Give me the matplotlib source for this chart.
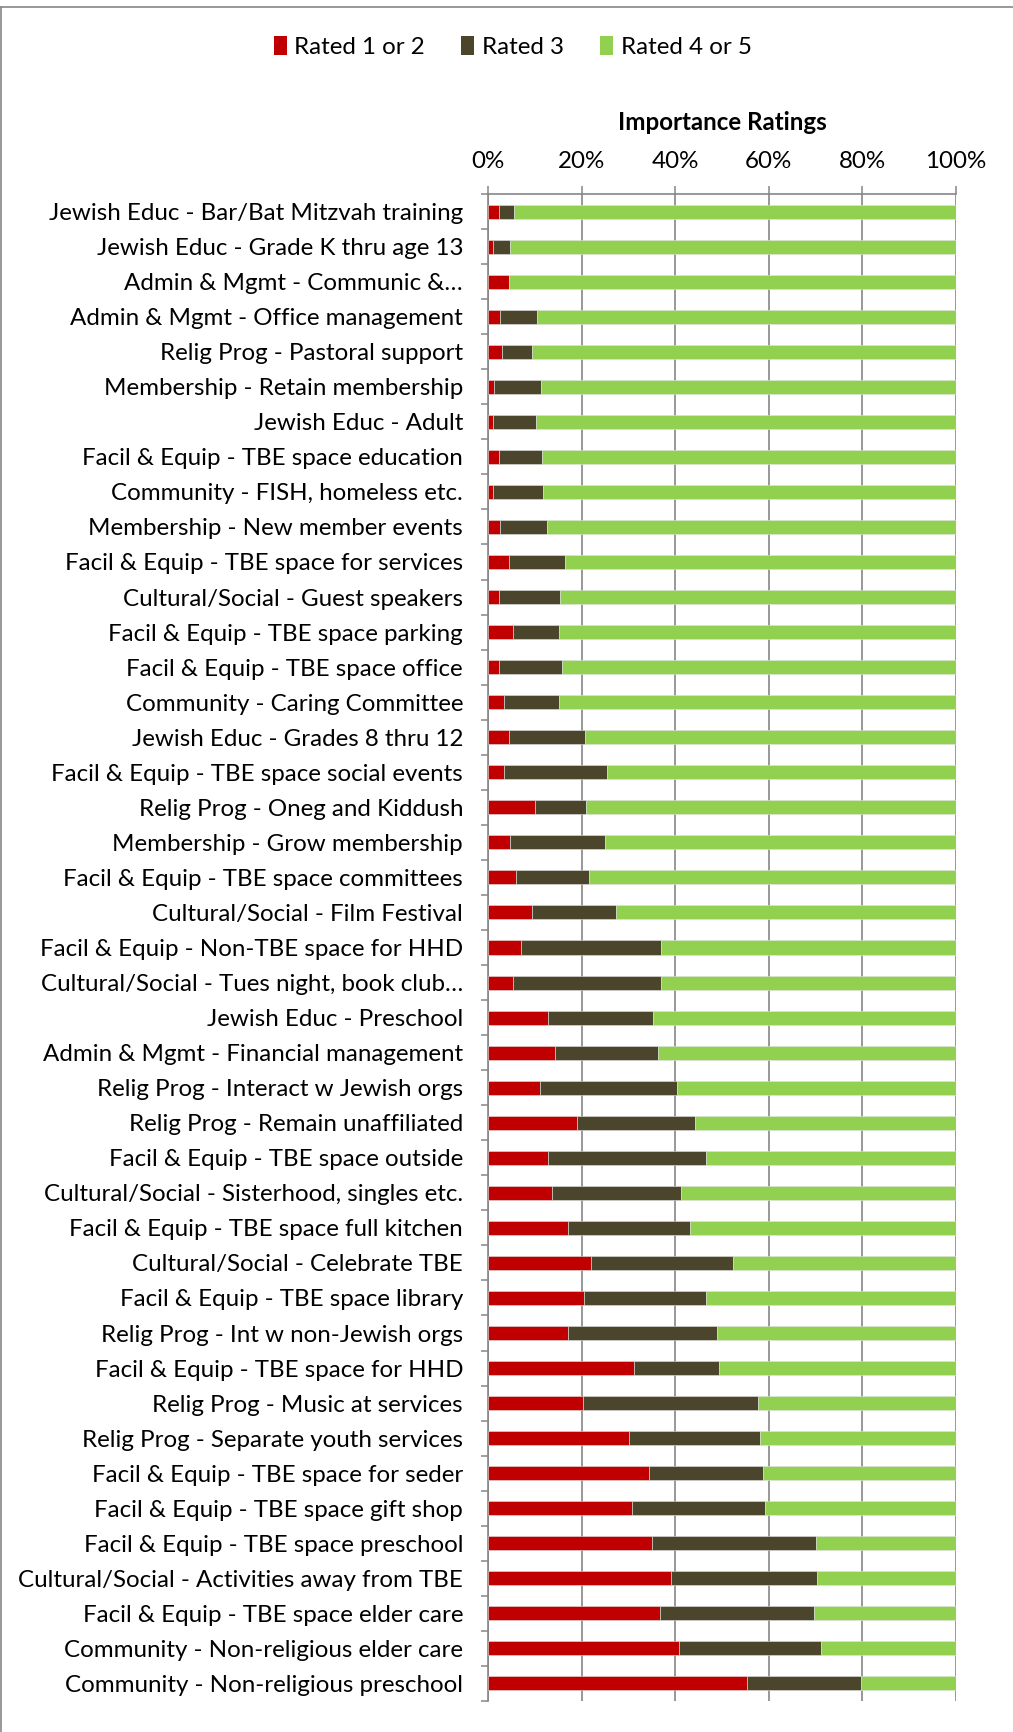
import numpy as np
import matplotlib.pyplot as plt
from matplotlib.patches import Patch
from matplotlib.lines import Line2D

plt.rcParams['font.family'] = ['Lato', 'DejaVu Sans']

# survey items, top to bottom
labels = [
    "Jewish Educ - Bar/Bat Mitzvah training",
    "Jewish Educ - Grade K thru age 13",
    "Admin & Mgmt - Communic &\u2026",
    "Admin & Mgmt - Office management",
    "Relig Prog - Pastoral support",
    "Membership - Retain membership",
    "Jewish Educ - Adult",
    "Facil & Equip - TBE space education",
    "Community - FISH, homeless etc.",
    "Membership - New member events",
    "Facil & Equip - TBE space for services",
    "Cultural/Social - Guest speakers",
    "Facil & Equip - TBE space parking",
    "Facil & Equip - TBE space office",
    "Community - Caring Committee",
    "Jewish Educ - Grades 8 thru 12",
    "Facil & Equip - TBE space social events",
    "Relig Prog - Oneg and Kiddush",
    "Membership - Grow membership",
    "Facil & Equip - TBE space committees",
    "Cultural/Social - Film Festival",
    "Facil & Equip - Non-TBE space for HHD",
    "Cultural/Social - Tues night, book club\u2026",
    "Jewish Educ - Preschool",
    "Admin & Mgmt - Financial management",
    "Relig Prog - Interact w Jewish orgs",
    "Relig Prog - Remain unaffiliated",
    "Facil & Equip - TBE space outside",
    "Cultural/Social - Sisterhood, singles etc.",
    "Facil & Equip - TBE space full kitchen",
    "Cultural/Social - Celebrate TBE",
    "Facil & Equip - TBE space library",
    "Relig Prog - Int w non-Jewish orgs",
    "Facil & Equip - TBE space for HHD",
    "Relig Prog - Music at services",
    "Relig Prog - Separate youth services",
    "Facil & Equip - TBE space for seder",
    "Facil & Equip - TBE space gift shop",
    "Facil & Equip - TBE space preschool",
    "Cultural/Social - Activities away from TBE",
    "Facil & Equip - TBE space elder care",
    "Community - Non-religious elder care",
    "Community - Non-religious preschool",
]

# percent of respondents
rated_1_2 = [2.3, 1.1, 4.4, 2.6, 3.0, 1.3, 1.1, 2.4, 1.1, 2.6, 4.4, 2.4, 5.4, 2.3, 3.4,
             4.5, 3.4, 10.1, 4.7, 6.0, 9.5, 7.1, 5.3, 12.9, 14.4, 11.1, 19.0, 12.8, 13.7,
             17.1, 22.0, 20.5, 17.1, 31.1, 20.2, 30.2, 34.5, 30.7, 35.1, 39.0, 36.8, 40.9, 55.3]
rated_3 = [3.2, 3.5, 0.0, 7.8, 6.3, 10.0, 9.1, 9.1, 10.6, 10.0, 12.1, 13.0, 9.7, 13.6, 11.7,
           16.2, 22.0, 10.8, 20.3, 15.6, 17.9, 29.8, 31.6, 22.4, 22.0, 29.3, 25.3, 33.8, 27.6,
           26.1, 30.4, 26.1, 31.9, 18.3, 37.4, 28.0, 24.2, 28.5, 35.0, 31.2, 32.9, 30.2, 24.3]
rated_4_5 = [94.5, 95.4, 95.6, 89.6, 90.7, 88.7, 89.8, 88.5, 88.3, 87.4, 83.5, 84.6, 84.9, 84.1, 84.9,
             79.3, 74.6, 79.1, 75.0, 78.4, 72.6, 63.1, 63.1, 64.7, 63.6, 59.6, 55.7, 53.4, 58.7,
             56.8, 47.6, 53.4, 51.0, 50.6, 42.4, 41.8, 41.3, 40.8, 29.9, 29.8, 30.3, 28.9, 20.4]

series_names = ["Rated 1 or 2", "Rated 3", "Rated 4 or 5"]
colors = ["#C00000", "#4B452C", "#92D050"]
grid_gray = "#868686"
fs = 17.4

fig = plt.figure(figsize=(10.13, 17.32), dpi=100)
ax = fig.add_axes([488 / 1013, 1 - 1701 / 1732, 468 / 1013, 1507 / 1732])

y = np.arange(len(labels))
r12 = np.array(rated_1_2)
r3 = np.array(rated_3)
r45 = np.array(rated_4_5)

ax.barh(y, r12, height=0.4, color=colors[0], edgecolor='#e0e0e0', linewidth=0.4, zorder=3)
ax.barh(y, r3, left=r12, height=0.4, color=colors[1], edgecolor='#e0e0e0', linewidth=0.4, zorder=3)
ax.barh(y, r45, left=r12 + r3, height=0.4, color=colors[2], edgecolor='#e0e0e0', linewidth=0.4, zorder=3)

ax.set_xlim(0, 100)
ax.set_ylim(len(labels) - 0.5, -0.5)

# x axis on top
ax.xaxis.set_ticks_position('top')
ax.xaxis.set_label_position('top')
ax.set_xticks(np.arange(0, 101, 20))
ax.set_xticklabels([f"{v}%" for v in range(0, 101, 20)])
ax.tick_params(axis='x', direction='out', length=6, width=1.1, color=grid_gray,
               labelsize=fs, pad=10)
ax.set_xlabel("Importance Ratings", fontsize=fs, fontweight='bold', labelpad=15)
ax.grid(axis='x', color=grid_gray, linewidth=1.2, zorder=0)

# category labels, with ticks between categories
ax.set_yticks(y)
ax.set_yticklabels(labels)
ax.set_yticks(np.arange(-0.5, len(labels), 1), minor=True)
ax.tick_params(axis='y', which='major', length=0, labelsize=fs, pad=18)
ax.tick_params(axis='y', which='minor', direction='out', length=5, width=1.1, color=grid_gray)

for side in ['right', 'bottom']:
    ax.spines[side].set_visible(False)
for side in ['left', 'top']:
    ax.spines[side].set_color(grid_gray)
    ax.spines[side].set_linewidth(1.2)

handles = [Patch(facecolor=c, edgecolor='none') for c in colors]
fig.legend(handles, series_names, loc='center', bbox_to_anchor=(0.506, 1 - 47 / 1732),
           ncol=3, frameon=False, fontsize=fs, handlelength=0.55, handleheight=0.85,
           handletextpad=0.3, columnspacing=1.5)

# chart area border
fig.add_artist(Line2D([1 / 1013, 1], [1 - 7 / 1732, 1 - 7 / 1732], color=grid_gray,
                      linewidth=1.2, transform=fig.transFigure))
fig.add_artist(Line2D([1 / 1013, 1 / 1013], [0, 1 - 7 / 1732], color=grid_gray,
                      linewidth=1.2, transform=fig.transFigure))

fig.savefig("out.png", dpi=100)
